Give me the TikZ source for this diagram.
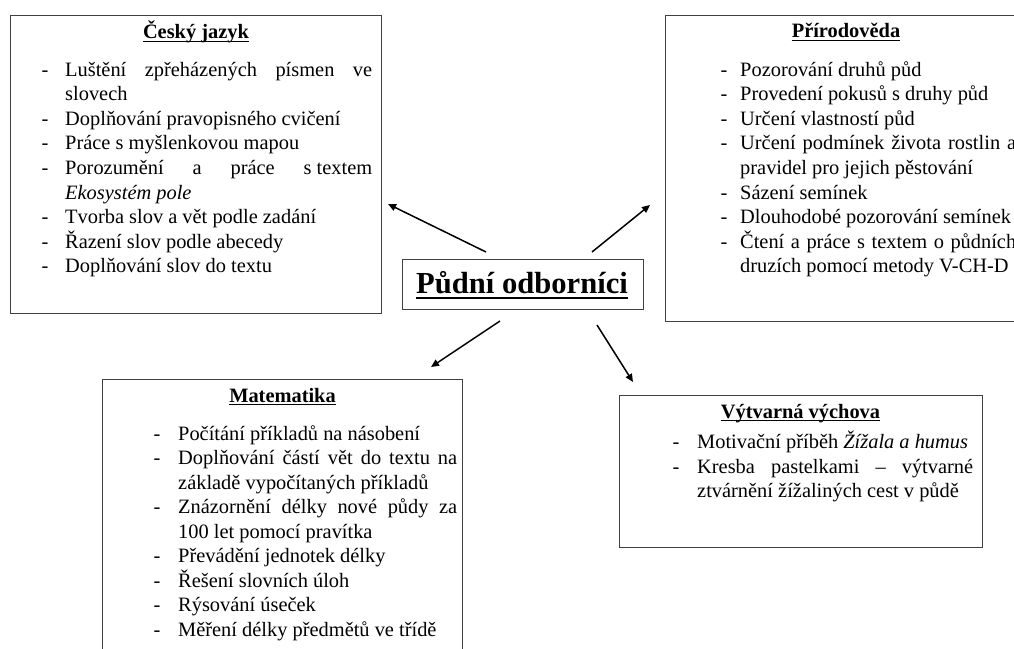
\documentclass[tikz,border=0pt]{standalone}
\usepackage{fontspec}
\setmainfont{Liberation Serif}
\usetikzlibrary{arrows.meta}

\begin{document}
\begin{tikzpicture}[x=1pt,y=-1pt,
  box/.style={draw=black!75, line width=1pt, inner sep=0pt, anchor=north west},
  item/.style={anchor=base west, inner sep=0pt, font=\fontsize{20.4}{24}\selectfont},
  dashmark/.style={anchor=base, inner sep=0pt, font=\fontsize{20.4}{24}\selectfont},
  heading/.style={anchor=base, inner sep=0pt, font=\fontsize{20.4}{24}\selectfont\bfseries},
  hubtext/.style={anchor=base, inner sep=0pt, font=\fontsize{30.6}{36}\selectfont\bfseries},
  uline/.style={line width=1.2pt},
  conn/.style={line width=1.5pt, -{Triangle[length=8pt,width=7pt]}},
]
\useasboundingbox (0,0) rectangle (1014,648);
\clip (0,0) rectangle (1014,648);

% ---------- frames ----------
\node[box, minimum width=371pt, minimum height=298pt] (cjbox) at (10,15) {};
\node[box, minimum width=362pt, minimum height=306pt] (prbox) at (665,15) {};
\node[box, minimum width=241pt, minimum height=50pt] (hubbox) at (402,259) {};
\node[box, minimum width=360pt, minimum height=290pt] (mabox) at (102,379) {};
\node[box, minimum width=363pt, minimum height=152pt] (vvbox) at (619,395) {};

% ---------- central topic ----------
\node[hubtext] (hub) at (522,293) {Půdní odborníci};
\draw[line width=2pt] ([yshift=-5pt]hub.base west) -- ([yshift=-5pt]hub.base east);

% ---------- Český jazyk ----------
\node[heading] (cjt) at (196,38.5) {Český jazyk};
\draw[uline] ([yshift=-2.6pt]cjt.base west) -- ([yshift=-2.6pt]cjt.base east);
\node[dashmark] (cjd1) at (45,76) {-};
\node[item] (cj1) at (65,76) {\makebox[307pt][s]{Luštění zpřeházených písmen ve}};
\node[item] (cj2) at (65,100.6) {slovech};
\node[dashmark] (cjd3) at (45,125.2) {-};
\node[item] (cj3) at (65,125.2) {Doplňování pravopisného cvičení};
\node[dashmark] (cjd4) at (45,149.8) {-};
\node[item] (cj4) at (65,149.8) {Práce s myšlenkovou mapou};
\node[dashmark] (cjd5) at (45,174.4) {-};
\node[item] (cj5) at (65,174.4) {\makebox[307pt][s]{Porozumění a práce s\kern.25em textem}};
\node[item] (cj6) at (65,199) {\textit{Ekosystém pole}};
\node[dashmark] (cjd7) at (45,223.6) {-};
\node[item] (cj7) at (65,223.6) {Tvorba slov a vět podle zadání};
\node[dashmark] (cjd8) at (45,248.2) {-};
\node[item] (cj8) at (65,248.2) {Řazení slov podle abecedy};
\node[dashmark] (cjd9) at (45,272.8) {-};
\node[item] (cj9) at (65,272.8) {Doplňování slov do textu};

% ---------- Přírodověda ----------
\node[heading] (prt) at (846,37.5) {Přírodověda};
\draw[uline] ([yshift=-2.6pt]prt.base west) -- ([yshift=-2.6pt]prt.base east);
\node[dashmark] (prd1) at (724,76) {-};
\node[item] (pr1) at (740,76) {Pozorování druhů půd};
\node[dashmark] (prd2) at (724,100.6) {-};
\node[item] (pr2) at (740,100.6) {Provedení pokusů s druhy půd};
\node[dashmark] (prd3) at (724,125.2) {-};
\node[item] (pr3) at (740,125.2) {Určení vlastností půd};
\node[dashmark] (prd4) at (724,149.8) {-};
\node[item] (pr4) at (740,149.8) {\makebox[276pt][s]{Určení podmínek života rostlin a}};
\node[item] (pr5) at (740,174.4) {pravidel pro jejich pěstování};
\node[dashmark] (prd6) at (724,199) {-};
\node[item] (pr6) at (740,199) {Sázení semínek};
\node[dashmark] (prd7) at (724,223.6) {-};
\node[item] (pr7) at (740,223.6) {Dlouhodobé pozorování semínek};
\node[dashmark] (prd8) at (724,248.2) {-};
\node[item] (pr8) at (740,248.2) {\makebox[276pt][s]{Čtení a práce s textem o půdních}};
\node[item] (pr9) at (740,272.8) {druzích pomocí metody V-CH-D};

% ---------- Matematika ----------
\node[heading] (mat) at (282.5,402) {Matematika};
\draw[uline] ([yshift=-2.6pt]mat.base west) -- ([yshift=-2.6pt]mat.base east);
\node[dashmark] (mad1) at (157,440) {-};
\node[item] (ma1) at (178,440) {Počítání příkladů na násobení};
\node[dashmark] (mad2) at (157,464.5) {-};
\node[item] (ma2) at (178,464.5) {\makebox[279pt][s]{Doplňování částí vět do textu na}};
\node[item] (ma3) at (178,489) {základě vypočítaných příkladů};
\node[dashmark] (mad4) at (157,513.5) {-};
\node[item] (ma4) at (178,513.5) {\makebox[279pt][s]{Znázornění délky nové půdy za}};
\node[item] (ma5) at (178,538) {100 let pomocí pravítka};
\node[dashmark] (mad6) at (157,562.5) {-};
\node[item] (ma6) at (178,562.5) {Převádění jednotek délky};
\node[dashmark] (mad7) at (157,587) {-};
\node[item] (ma7) at (178,587) {Řešení slovních úloh};
\node[dashmark] (mad8) at (157,611.5) {-};
\node[item] (ma8) at (178,611.5) {Rýsování úseček};
\node[dashmark] (mad9) at (157,636) {-};
\node[item] (ma9) at (178,636) {Měření délky předmětů ve třídě};

% ---------- Výtvarná výchova ----------
\node[heading] (vvt) at (800.5,418) {Výtvarná výchova};
\draw[uline] ([yshift=-2.6pt]vvt.base west) -- ([yshift=-2.6pt]vvt.base east);
\node[dashmark] (vvd1) at (676,448.5) {-};
\node[item] (vv1) at (697,448.5) {Motivační příběh \textit{Žížala a humus}};
\node[dashmark] (vvd2) at (676,473) {-};
\node[item] (vv2) at (697,473) {\makebox[276pt][s]{Kresba pastelkami – výtvarné}};
\node[item] (vv3) at (697,497.5) {ztvárnění žížaliných cest v půdě};

% ---------- connectors ----------
\coordinate (a1s) at (486,252);
\coordinate (a1e) at (388,204);
\coordinate (a2s) at (592,252);
\coordinate (a2e) at (650,205);
\coordinate (a3s) at (500,321);
\coordinate (a3e) at (431,367);
\coordinate (a4s) at (597,325);
\coordinate (a4e) at (633,382);
\draw[conn] (a1s) -- (a1e);
\draw[conn] (a2s) -- (a2e);
\draw[conn] (a3s) -- (a3e);
\draw[conn] (a4s) -- (a4e);
\end{tikzpicture}
\end{document}
